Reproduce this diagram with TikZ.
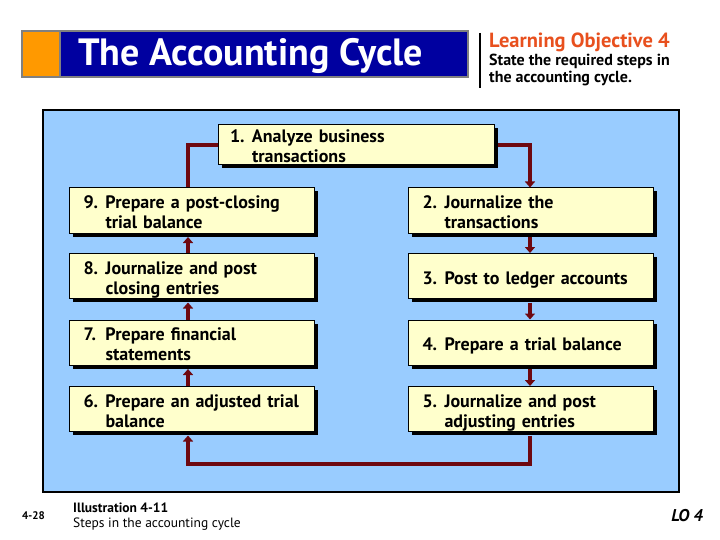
\documentclass[tikz,border=0pt]{standalone}
\usepackage{fontspec}
\setmainfont{PT Sans}
\usetikzlibrary{shadows,arrows.meta}
\definecolor{panelblue}{RGB}{153,204,255}
\definecolor{boxyellow}{RGB}{255,255,204}
\definecolor{conncol}{RGB}{110,8,16}
\definecolor{titleblue}{RGB}{0,0,160}
\definecolor{loorange}{RGB}{232,80,30}
\definecolor{titleorange}{RGB}{255,153,0}
\newcommand{\stptwo}[3]{\raisebox{-4pt}[\height][\depth]{\begin{tabular}{@{}p{22pt}@{}l@{}}#1&#2\\&#3\end{tabular}}}
\newcommand{\stpone}[2]{\raisebox{-4pt}[\height][\depth]{\begin{tabular}{@{}p{22pt}@{}l@{}}#1&#2\end{tabular}}}
\begin{document}
\begin{tikzpicture}[x=1pt,y=-1pt,
  stepbox/.style={draw=black,line width=1pt,fill=boxyellow,minimum height=45pt,
    text width=217pt,inner xsep=14pt,inner ysep=0pt,align=left,
    font=\fontsize{18}{20}\selectfont\bfseries,
    drop shadow={shadow xshift=3.5pt,shadow yshift=-3.5pt,fill=black,opacity=1}},
  conn/.style={draw=conncol,line width=4pt,line join=miter},
  arr/.style={conn,-{Triangle[width=10pt,length=6pt]}}]
\useasboundingbox (0,0) rectangle (720,540);
% title bar
\fill[titleorange] (22,31) rectangle (60,77);
\fill[titleblue] (60,31) rectangle (468,77);
\draw[gray,line width=1.5pt] (22,31) rectangle (468,77) (60,31) -- (60,77);
\node[anchor=base west,inner sep=0pt,text=white,font=\fontsize{38}{40}\selectfont\bfseries] (title) at (78,66) {The Accounting Cycle};
\draw[black,line width=2pt] (480,33) -- (480,88);
\node[anchor=base west,inner sep=0pt,text=loorange,font=\fontsize{20.5}{22}\selectfont\bfseries] (lo) at (489,48) {Learning Objective 4};
\node[anchor=base west,inner sep=0pt,font=\fontsize{16}{18}\selectfont\bfseries] (lotxt1) at (489,66) {State the required steps in};
\node[anchor=base west,inner sep=0pt,font=\fontsize{16}{18}\selectfont\bfseries] (lotxt2) at (489,83) {the accounting cycle.};
% panel
\draw[fill=panelblue,line width=2pt] (43,110) rectangle (679,492);
% boxes
\node[stepbox,minimum height=34pt,text width=252pt,inner xsep=12pt] (b1) at (356,145) {\stptwo{1.}{Analyze business}{transactions}};
\node[stepbox] (b9) at (192,210.5) {\stptwo{9.}{Prepare a post-closing}{trial balance}};
\node[stepbox] (b8) at (192,276) {\stptwo{8.}{Journalize and post}{closing entries}};
\node[stepbox] (b7) at (192,342.5) {\stptwo{7.}{Prepare financial}{statements}};
\node[stepbox] (b6) at (192,409) {\stptwo{6.}{Prepare an adjusted trial}{balance}};
\node[stepbox] (b2) at (531,210.5) {\stptwo{2.}{Journalize the}{transactions}};
\node[stepbox] (b3) at (531,276) {\stpone{3.}{Post to ledger accounts}};
\node[stepbox] (b4) at (531,342.5) {\stpone{4.}{Prepare a trial balance}};
\node[stepbox] (b5) at (531,409) {\stptwo{5.}{Journalize and post}{adjusting entries}};
% connectors
\coordinate (lx) at (188,0);
\coordinate (rx) at (530,0);
\coordinate (bot) at (0,464);
\draw[conn] (b9.north -| lx) |- (b1.west);
\draw[arr,shorten <=3.5pt] (b1.east) -| (b2.north -| rx);
\draw[arr,shorten <=3.5pt] (b2.south -| rx) -- (b3.north -| rx);
\draw[arr,shorten <=3.5pt] (b3.south -| rx) -- (b4.north -| rx);
\draw[arr,shorten <=3.5pt] (b4.south -| rx) -- (b5.north -| rx);
\draw[arr,shorten <=3.5pt,shorten >=3.5pt] (b5.south -| rx) -- (rx |- bot) -- (lx |- bot) -- (b6.south -| lx);
\draw[arr,shorten >=3.5pt] (b6.north -| lx) -- (b7.south -| lx);
\draw[arr,shorten >=3.5pt] (b7.north -| lx) -- (b8.south -| lx);
\draw[arr,shorten >=3.5pt] (b8.north -| lx) -- (b9.south -| lx);
% footer
\node[anchor=base west,inner sep=0pt,font=\fontsize{11}{13}\selectfont\bfseries] (pg) at (22,519) {4-28};
\node[anchor=base west,inner sep=0pt,font=\fontsize{13.5}{15}\selectfont\bfseries] (ill) at (73,512) {Illustration 4-11};
\node[anchor=base west,inner sep=0pt,font=\fontsize{13.5}{15}\selectfont] (illtxt) at (73,527) {Steps in the accounting cycle};
\node[anchor=base east,inner sep=0pt,font=\fontsize{17}{20}\selectfont\bfseries\itshape] (lo4) at (703,521) {LO 4};
\end{tikzpicture}
\end{document}
